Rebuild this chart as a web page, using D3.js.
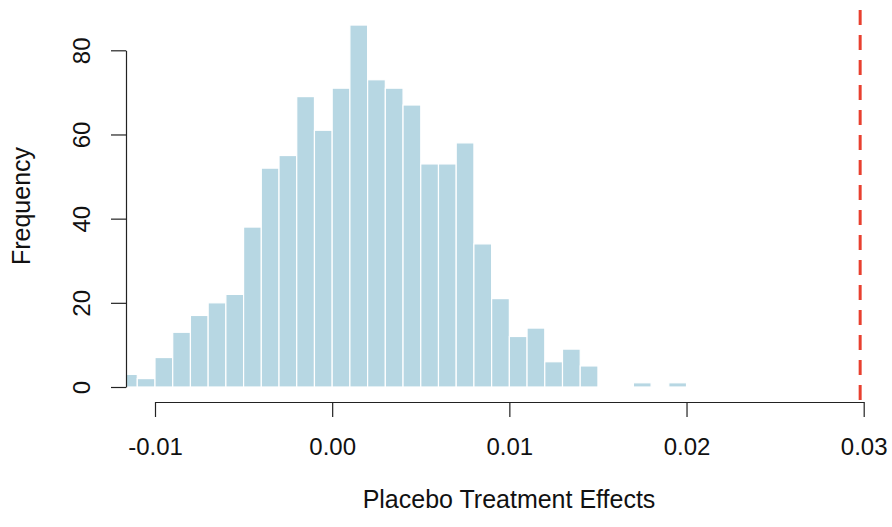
<!DOCTYPE html>
<html>
<head>
<meta charset="utf-8">
<script src="https://cdn.jsdelivr.net/npm/d3@7"></script>
<style>
body { margin: 0; background: #fff; }
text { font-family: "Liberation Sans", Arial, Helvetica, sans-serif; fill: #111; }
</style>
</head>
<body>
<div id="chart"></div>
<script>
// histogram bins (left edge, width 0.001) and their counts
var binStarts = [-0.012, -0.011, -0.010, -0.009, -0.008, -0.007, -0.006, -0.005,
                 -0.004, -0.003, -0.002, -0.001, 0.000, 0.001, 0.002, 0.003,
                 0.004, 0.005, 0.006, 0.007, 0.008, 0.009, 0.010, 0.011,
                 0.012, 0.013, 0.014, 0.015, 0.016, 0.017, 0.018, 0.019];
var counts = [3, 2, 7, 13, 17, 20, 22, 38,
              52, 55, 69, 61, 71, 86, 73, 71,
              67, 53, 53, 58, 34, 21, 12, 14,
              6, 9, 5, 0, 0, 1, 0, 1];
var binWidth = 0.001;
var xTicks = [-0.01, 0.00, 0.01, 0.02, 0.03];
var yTicks = [0, 20, 40, 60, 80];
var observed = 0.0298;

var width = 892, height = 527;

var svg = d3.select("#chart").append("svg")
    .attr("width", width)
    .attr("height", height);

var x = d3.scaleLinear().domain([-0.01, 0.03]).range([155, 863.7]);
var y = d3.scaleLinear().domain([0, 80]).range([387, 50.3]);

// plot region (R usr box)
var plotLeft = 126, plotTop = 10, plotBottom = 402, plotRight = 892;

svg.append("clipPath").attr("id", "plotclip")
  .append("rect")
    .attr("x", plotLeft).attr("y", plotTop)
    .attr("width", plotRight - plotLeft).attr("height", plotBottom - plotTop);

var data = binStarts.map(function(d, i) { return {x0: d, n: counts[i]}; });

svg.append("g").attr("clip-path", "url(#plotclip)")
  .selectAll("rect")
    .data(data.filter(function(d) { return d.n > 0; }))
    .enter()
    .append("rect")
    .attr("x", function(d) { return x(d.x0); })
    .attr("width", function(d) { return x(d.x0 + binWidth) - x(d.x0); })
    .attr("y", function(d) { return y(d.n); })
    .attr("height", function(d) { return y(0) - y(d.n); })
    .style("fill", "#b7d7e3")
    .style("stroke", "#fff")
    .style("stroke-width", 1.2);

// observed effect
svg.append("line")
    .attr("x1", x(observed)).attr("x2", x(observed))
    .attr("y1", plotTop).attr("y2", plotBottom)
    .style("stroke", "#e8402f")
    .style("stroke-width", 3)
    .style("stroke-dasharray", "15,10");

// x axis
var xAxis = svg.append("g")
    .attr("transform", "translate(0," + plotBottom + ")")
    .call(d3.axisBottom(x)
        .tickValues(xTicks)
        .tickSize(15)
        .tickSizeOuter(0)
        .tickFormat(function(d) { return d3.format(".2f")(d).replace("\u2212", "-"); }));
xAxis.selectAll("text")
    .attr("y", 53).attr("dy", 0)
    .style("font-size", "24px");

// y axis
var yAxis = svg.append("g")
    .attr("transform", "translate(" + plotLeft + ",0)")
    .call(d3.axisLeft(y)
        .tickValues(yTicks)
        .tickSize(15)
        .tickSizeOuter(0));
yAxis.selectAll("text")
    .attr("transform", "rotate(-90)")
    .attr("x", 0).attr("y", -36).attr("dy", 0)
    .style("text-anchor", "middle")
    .style("font-size", "24px");

svg.selectAll(".domain, .tick line")
    .style("stroke", "#222")
    .style("stroke-width", 1.2);

// labels
svg.append("text")
    .attr("x", 509).attr("y", 508)
    .style("text-anchor", "middle")
    .style("font-size", "25px")
    .text("Placebo Treatment Effects");

svg.append("text")
    .attr("transform", "translate(30,206) rotate(-90)")
    .style("text-anchor", "middle")
    .style("font-size", "25px")
    .text("Frequency");
</script>
</body>
</html>
